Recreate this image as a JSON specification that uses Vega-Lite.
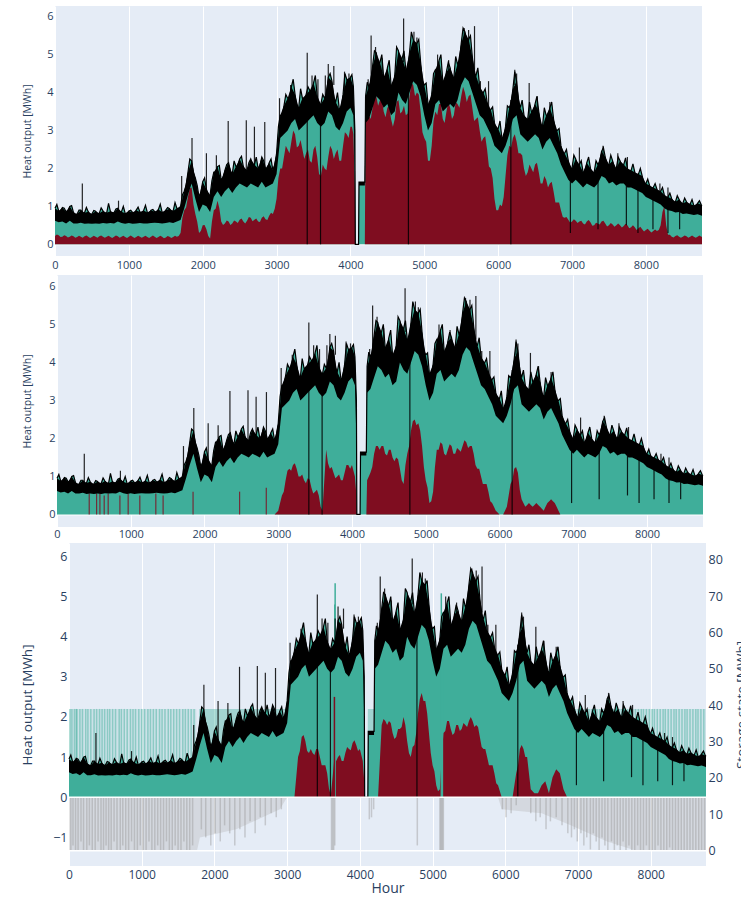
{
"$schema":"https://vega.github.io/schema/vega-lite/v6.json",
"padding":{"left":0,"top":6,"right":0,"bottom":0},
"background":"white",
"spacing":4,
"config":{"mark":{"invalid":"filter"},"view":{"stroke":null},"axis":{"domain":false,"ticks":false,"tickSize":0,"labelFont":"Open Sans","titleFont":"Open Sans","labelColor":"#2a3f5f","titleColor":"#2a3f5f","titleFontWeight":"normal","grid":false,"labelFlush":false,"labelOverlap":false}},
"datasets":{
"zl":[{"h":0},{"h":8760}],
"sto":[{"s":0},{"s":80}],
"ts":[
{"h":0,"hi":0.95,"lo":0.62,"r1":0.22,"r2":0,"r3":0},
{"h":50,"hi":0.88,"lo":0.58,"r1":0.24,"r2":0,"r3":0},
{"h":100,"hi":0.97,"lo":0.6,"r1":0.2,"r2":0,"r3":0},
{"h":150,"hi":0.86,"lo":0.55,"r1":0.22,"r2":0,"r3":0},
{"h":200,"hi":1.0,"lo":0.62,"r1":0.2,"r2":0,"r3":0},
{"h":250,"hi":0.84,"lo":0.55,"r1":0.21,"r2":0,"r3":0},
{"h":300,"hi":0.8,"lo":0.55,"r1":0.19,"r2":0,"r3":0},
{"h":350,"hi":0.9,"lo":0.57,"r1":0.2,"r2":0,"r3":0},
{"h":400,"hi":0.83,"lo":0.54,"r1":0.21,"r2":0,"r3":0},
{"h":450,"hi":0.86,"lo":0.55,"r1":0.2,"r2":0,"r3":0},
{"h":500,"hi":0.8,"lo":0.54,"r1":0.19,"r2":0,"r3":0},
{"h":550,"hi":0.87,"lo":0.55,"r1":0.2,"r2":0,"r3":0},
{"h":600,"hi":0.82,"lo":0.54,"r1":0.21,"r2":0,"r3":0},
{"h":650,"hi":0.88,"lo":0.56,"r1":0.2,"r2":0,"r3":0},
{"h":700,"hi":0.83,"lo":0.55,"r1":0.2,"r2":0,"r3":0},
{"h":750,"hi":0.87,"lo":0.56,"r1":0.19,"r2":0,"r3":0},
{"h":800,"hi":0.84,"lo":0.55,"r1":0.2,"r2":0,"r3":0},
{"h":850,"hi":0.95,"lo":0.6,"r1":0.21,"r2":0,"r3":0},
{"h":900,"hi":0.86,"lo":0.56,"r1":0.2,"r2":0,"r3":0},
{"h":950,"hi":0.82,"lo":0.54,"r1":0.19,"r2":0,"r3":0},
{"h":1000,"hi":0.88,"lo":0.56,"r1":0.2,"r2":0,"r3":0},
{"h":1050,"hi":0.84,"lo":0.54,"r1":0.2,"r2":0,"r3":0},
{"h":1100,"hi":0.9,"lo":0.55,"r1":0.19,"r2":0,"r3":0},
{"h":1150,"hi":0.85,"lo":0.56,"r1":0.2,"r2":0,"r3":0},
{"h":1200,"hi":0.89,"lo":0.55,"r1":0.2,"r2":0,"r3":0},
{"h":1250,"hi":0.84,"lo":0.55,"r1":0.19,"r2":0,"r3":0},
{"h":1300,"hi":0.9,"lo":0.56,"r1":0.2,"r2":0,"r3":0},
{"h":1350,"hi":0.86,"lo":0.57,"r1":0.2,"r2":0,"r3":0},
{"h":1400,"hi":0.92,"lo":0.56,"r1":0.19,"r2":0,"r3":0},
{"h":1450,"hi":0.85,"lo":0.55,"r1":0.2,"r2":0,"r3":0},
{"h":1500,"hi":0.9,"lo":0.56,"r1":0.18,"r2":0,"r3":0},
{"h":1550,"hi":0.94,"lo":0.58,"r1":0.2,"r2":0,"r3":0},
{"h":1600,"hi":0.88,"lo":0.56,"r1":0.19,"r2":0,"r3":0},
{"h":1650,"hi":0.95,"lo":0.6,"r1":0.2,"r2":0,"r3":0},
{"h":1700,"hi":1.0,"lo":0.64,"r1":0.3,"r2":0,"r3":0},
{"h":1750,"hi":1.4,"lo":0.95,"r1":0.9,"r2":0,"r3":0},
{"h":1800,"hi":1.9,"lo":1.3,"r1":1.25,"r2":0,"r3":0},
{"h":1850,"hi":2.2,"lo":1.6,"r1":1.5,"r2":0,"r3":0},
{"h":1900,"hi":1.75,"lo":1.2,"r1":0.8,"r2":0,"r3":0},
{"h":1950,"hi":1.25,"lo":0.85,"r1":0.3,"r2":0,"r3":0},
{"h":2000,"hi":1.65,"lo":1.05,"r1":0.5,"r2":0,"r3":0},
{"h":2050,"hi":1.45,"lo":1.0,"r1":0.4,"r2":0,"r3":0},
{"h":2100,"hi":1.3,"lo":0.85,"r1":0.15,"r2":0,"r3":0},
{"h":2150,"hi":1.9,"lo":1.25,"r1":0.9,"r2":0,"r3":0},
{"h":2200,"hi":2.05,"lo":1.4,"r1":1.15,"r2":0,"r3":0},
{"h":2250,"hi":1.7,"lo":1.25,"r1":0.6,"r2":0,"r3":0},
{"h":2300,"hi":1.95,"lo":1.4,"r1":0.55,"r2":0,"r3":0},
{"h":2350,"hi":2.15,"lo":1.5,"r1":0.6,"r2":0,"r3":0},
{"h":2400,"hi":1.85,"lo":1.35,"r1":0.55,"r2":0,"r3":0},
{"h":2450,"hi":2.05,"lo":1.5,"r1":0.6,"r2":0,"r3":0},
{"h":2500,"hi":2.25,"lo":1.6,"r1":0.65,"r2":0,"r3":0},
{"h":2550,"hi":2.05,"lo":1.55,"r1":0.6,"r2":0,"r3":0},
{"h":2600,"hi":1.95,"lo":1.5,"r1":0.62,"r2":0,"r3":0},
{"h":2650,"hi":2.25,"lo":1.6,"r1":0.7,"r2":0,"r3":0},
{"h":2700,"hi":2.1,"lo":1.55,"r1":0.65,"r2":0,"r3":0},
{"h":2750,"hi":2.0,"lo":1.5,"r1":0.6,"r2":0,"r3":0},
{"h":2800,"hi":2.3,"lo":1.65,"r1":0.7,"r2":0,"r3":0},
{"h":2850,"hi":2.0,"lo":1.5,"r1":0.66,"r2":0,"r3":0},
{"h":2900,"hi":2.15,"lo":1.55,"r1":0.75,"r2":0,"r3":0},
{"h":2950,"hi":1.95,"lo":1.6,"r1":0.8,"r2":0,"r3":0},
{"h":3000,"hi":2.4,"lo":1.85,"r1":1.2,"r2":0.1,"r3":0},
{"h":3050,"hi":3.4,"lo":2.8,"r1":2.0,"r2":0.5,"r3":0},
{"h":3100,"hi":3.65,"lo":2.9,"r1":2.3,"r2":0.9,"r3":0},
{"h":3150,"hi":3.85,"lo":3.0,"r1":2.5,"r2":1.2,"r3":1.0},
{"h":3200,"hi":4.15,"lo":3.2,"r1":2.7,"r2":1.3,"r3":1.5},
{"h":3250,"hi":3.95,"lo":3.3,"r1":2.9,"r2":1.2,"r3":1.4},
{"h":3300,"hi":3.6,"lo":3.0,"r1":2.6,"r2":1.0,"r3":1.1},
{"h":3350,"hi":3.85,"lo":3.1,"r1":2.5,"r2":0.9,"r3":1.1},
{"h":3400,"hi":3.95,"lo":3.2,"r1":2.4,"r2":0.95,"r3":1.2},
{"h":3450,"hi":4.05,"lo":3.3,"r1":2.2,"r2":0.7,"r3":1.0},
{"h":3500,"hi":4.25,"lo":3.4,"r1":2.5,"r2":0.6,"r3":0.8},
{"h":3550,"hi":3.9,"lo":3.2,"r1":2.3,"r2":0.5,"r3":0.6},
{"h":3600,"hi":3.7,"lo":3.1,"r1":1.8,"r2":0.1,"r3":0.05},
{"h":3650,"hi":3.85,"lo":3.2,"r1":2.0,"r2":1.7,"r3":1.0},
{"h":3700,"hi":4.4,"lo":3.5,"r1":2.3,"r2":1.2,"r3":1.0},
{"h":3750,"hi":4.3,"lo":3.4,"r1":2.5,"r2":1.1,"r3":0.9},
{"h":3800,"hi":3.75,"lo":3.1,"r1":2.4,"r2":1.0,"r3":1.1},
{"h":3850,"hi":3.55,"lo":3.0,"r1":2.2,"r2":0.9,"r3":1.2},
{"h":3900,"hi":3.95,"lo":3.2,"r1":2.6,"r2":1.1,"r3":1.35},
{"h":3950,"hi":4.35,"lo":3.5,"r1":2.9,"r2":1.3,"r3":1.3},
{"h":4000,"hi":4.4,"lo":3.6,"r1":3.1,"r2":1.3,"r3":1.2},
{"h":4040,"hi":4.15,"lo":3.4,"r1":2.9,"r2":1.0,"r3":0.9},
{"h":4060,"hi":3.0,"lo":2.0,"r1":1.5,"r2":0.5,"r3":0.4},
{"h":4066,"hi":0,"lo":0,"r1":0,"r2":0,"r3":0},
{"h":4110,"hi":0,"lo":0,"r1":0,"r2":0,"r3":0},
{"h":4116,"hi":1.64,"lo":1.55,"r1":0,"r2":0,"r3":0},
{"h":4195,"hi":1.64,"lo":1.55,"r1":0,"r2":0,"r3":0},
{"h":4205,"hi":3.9,"lo":3.2,"r1":3.2,"r2":0.9,"r3":0},
{"h":4250,"hi":4.15,"lo":3.3,"r1":3.4,"r2":1.1,"r3":0},
{"h":4300,"hi":4.7,"lo":3.6,"r1":3.6,"r2":1.6,"r3":1.8},
{"h":4350,"hi":5.05,"lo":3.9,"r1":3.9,"r2":1.8,"r3":1.9},
{"h":4400,"hi":4.8,"lo":3.8,"r1":3.8,"r2":1.8,"r3":1.9},
{"h":4450,"hi":4.4,"lo":3.6,"r1":3.5,"r2":1.6,"r3":1.6},
{"h":4500,"hi":4.65,"lo":3.7,"r1":3.6,"r2":1.7,"r3":1.5},
{"h":4550,"hi":4.2,"lo":3.4,"r1":3.3,"r2":1.5,"r3":1.7},
{"h":4600,"hi":4.45,"lo":3.5,"r1":3.3,"r2":1.5,"r3":2.0},
{"h":4650,"hi":5.1,"lo":4.0,"r1":3.8,"r2":1.2,"r3":1.4},
{"h":4700,"hi":4.9,"lo":3.8,"r1":3.5,"r2":0.8,"r3":1.0},
{"h":4750,"hi":4.6,"lo":3.7,"r1":3.4,"r2":1.6,"r3":1.3},
{"h":4800,"hi":5.05,"lo":4.0,"r1":3.9,"r2":2.2,"r3":2.1},
{"h":4850,"hi":5.4,"lo":4.3,"r1":4.2,"r2":2.5,"r3":2.6},
{"h":4900,"hi":5.3,"lo":4.2,"r1":4.0,"r2":2.4,"r3":2.4},
{"h":4950,"hi":4.8,"lo":3.9,"r1":3.5,"r2":1.8,"r3":1.6},
{"h":5000,"hi":4.2,"lo":3.4,"r1":2.8,"r2":0.9,"r3":0.8},
{"h":5050,"hi":3.7,"lo":3.0,"r1":2.2,"r2":0.3,"r3":0.3},
{"h":5100,"hi":3.95,"lo":3.2,"r1":2.6,"r2":0.6,"r3":0.2},
{"h":5150,"hi":4.6,"lo":3.7,"r1":3.5,"r2":1.7,"r3":1.6},
{"h":5200,"hi":4.85,"lo":3.8,"r1":3.7,"r2":1.9,"r3":1.9},
{"h":5250,"hi":4.3,"lo":3.5,"r1":3.3,"r2":1.6,"r3":1.7},
{"h":5300,"hi":4.55,"lo":3.6,"r1":3.5,"r2":1.7,"r3":1.6},
{"h":5350,"hi":4.65,"lo":3.7,"r1":3.6,"r2":1.8,"r3":1.8},
{"h":5400,"hi":4.4,"lo":3.6,"r1":3.4,"r2":1.6,"r3":1.7},
{"h":5450,"hi":4.75,"lo":3.8,"r1":3.7,"r2":1.7,"r3":1.8},
{"h":5500,"hi":5.3,"lo":4.2,"r1":3.9,"r2":1.8,"r3":1.9},
{"h":5550,"hi":5.6,"lo":4.4,"r1":4.0,"r2":1.9,"r3":1.9},
{"h":5600,"hi":5.4,"lo":4.3,"r1":3.9,"r2":1.8,"r3":1.8},
{"h":5650,"hi":4.95,"lo":4.0,"r1":3.6,"r2":1.6,"r3":1.5},
{"h":5700,"hi":4.45,"lo":3.7,"r1":3.3,"r2":1.2,"r3":1.2},
{"h":5750,"hi":4.15,"lo":3.4,"r1":3.0,"r2":1.0,"r3":1.0},
{"h":5800,"hi":4.0,"lo":3.3,"r1":2.8,"r2":0.8,"r3":0.8},
{"h":5850,"hi":3.75,"lo":3.1,"r1":2.5,"r2":0.6,"r3":0.6},
{"h":5900,"hi":3.55,"lo":2.9,"r1":2.0,"r2":0.3,"r3":0.3},
{"h":5950,"hi":3.2,"lo":2.6,"r1":1.2,"r2":0.1,"r3":0},
{"h":6000,"hi":3.05,"lo":2.5,"r1":0.9,"r2":0,"r3":0},
{"h":6050,"hi":2.8,"lo":2.4,"r1":1.0,"r2":0,"r3":0},
{"h":6100,"hi":3.1,"lo":2.6,"r1":1.8,"r2":0.2,"r3":0},
{"h":6150,"hi":3.6,"lo":2.9,"r1":2.6,"r2":0.8,"r3":0.6},
{"h":6200,"hi":4.1,"lo":3.3,"r1":2.8,"r2":1.2,"r3":1.2},
{"h":6250,"hi":4.3,"lo":3.4,"r1":2.7,"r2":1.1,"r3":1.2},
{"h":6300,"hi":3.6,"lo":2.9,"r1":2.4,"r2":0.4,"r3":1.0},
{"h":6350,"hi":3.4,"lo":2.8,"r1":2.0,"r2":0.2,"r3":0.2},
{"h":6400,"hi":3.3,"lo":2.7,"r1":1.9,"r2":0.3,"r3":0.1},
{"h":6450,"hi":3.5,"lo":2.8,"r1":2.0,"r2":0.2,"r3":0.1},
{"h":6500,"hi":3.7,"lo":2.9,"r1":2.1,"r2":0.3,"r3":0.3},
{"h":6550,"hi":3.5,"lo":2.8,"r1":1.9,"r2":0.2,"r3":0.4},
{"h":6600,"hi":3.1,"lo":2.5,"r1":1.6,"r2":0.1,"r3":0.1},
{"h":6650,"hi":3.4,"lo":2.7,"r1":1.7,"r2":0.3,"r3":0.5},
{"h":6700,"hi":3.6,"lo":2.8,"r1":1.6,"r2":0.4,"r3":0.7},
{"h":6750,"hi":3.3,"lo":2.6,"r1":1.4,"r2":0.3,"r3":0.6},
{"h":6800,"hi":3.0,"lo":2.4,"r1":1.1,"r2":0.1,"r3":0.2},
{"h":6850,"hi":2.6,"lo":2.1,"r1":0.9,"r2":0,"r3":0},
{"h":6900,"hi":2.4,"lo":1.9,"r1":0.7,"r2":0,"r3":0},
{"h":6950,"hi":2.2,"lo":1.7,"r1":0.65,"r2":0,"r3":0},
{"h":7000,"hi":2.0,"lo":1.6,"r1":0.6,"r2":0,"r3":0},
{"h":7050,"hi":2.25,"lo":1.7,"r1":0.62,"r2":0,"r3":0},
{"h":7100,"hi":2.1,"lo":1.6,"r1":0.6,"r2":0,"r3":0},
{"h":7150,"hi":1.9,"lo":1.5,"r1":0.55,"r2":0,"r3":0},
{"h":7200,"hi":2.15,"lo":1.6,"r1":0.6,"r2":0,"r3":0},
{"h":7250,"hi":2.0,"lo":1.55,"r1":0.58,"r2":0,"r3":0},
{"h":7300,"hi":1.9,"lo":1.5,"r1":0.5,"r2":0,"r3":0},
{"h":7350,"hi":2.1,"lo":1.6,"r1":0.55,"r2":0,"r3":0},
{"h":7400,"hi":2.45,"lo":1.8,"r1":0.6,"r2":0,"r3":0},
{"h":7450,"hi":2.3,"lo":1.75,"r1":0.55,"r2":0,"r3":0},
{"h":7500,"hi":2.1,"lo":1.6,"r1":0.5,"r2":0,"r3":0},
{"h":7550,"hi":2.2,"lo":1.65,"r1":0.52,"r2":0,"r3":0},
{"h":7600,"hi":2.0,"lo":1.55,"r1":0.5,"r2":0,"r3":0},
{"h":7650,"hi":2.2,"lo":1.6,"r1":0.5,"r2":0,"r3":0},
{"h":7700,"hi":2.1,"lo":1.6,"r1":0.48,"r2":0,"r3":0},
{"h":7750,"hi":2.0,"lo":1.5,"r1":0.5,"r2":0,"r3":0},
{"h":7800,"hi":1.95,"lo":1.5,"r1":0.45,"r2":0,"r3":0},
{"h":7850,"hi":1.9,"lo":1.45,"r1":0.45,"r2":0,"r3":0},
{"h":7900,"hi":1.85,"lo":1.4,"r1":0.42,"r2":0,"r3":0},
{"h":7950,"hi":1.8,"lo":1.35,"r1":0.4,"r2":0,"r3":0},
{"h":8000,"hi":1.6,"lo":1.25,"r1":0.38,"r2":0,"r3":0},
{"h":8050,"hi":1.55,"lo":1.2,"r1":0.36,"r2":0,"r3":0},
{"h":8100,"hi":1.5,"lo":1.15,"r1":0.35,"r2":0,"r3":0},
{"h":8150,"hi":1.45,"lo":1.1,"r1":0.35,"r2":0,"r3":0},
{"h":8200,"hi":1.4,"lo":1.05,"r1":0.5,"r2":0,"r3":0},
{"h":8250,"hi":1.3,"lo":0.95,"r1":1.0,"r2":0,"r3":0},
{"h":8300,"hi":1.25,"lo":0.9,"r1":0.25,"r2":0,"r3":0},
{"h":8350,"hi":1.2,"lo":0.88,"r1":0.2,"r2":0,"r3":0},
{"h":8400,"hi":1.12,"lo":0.84,"r1":0.22,"r2":0,"r3":0},
{"h":8450,"hi":1.18,"lo":0.85,"r1":0.2,"r2":0,"r3":0},
{"h":8500,"hi":1.08,"lo":0.8,"r1":0.2,"r2":0,"r3":0},
{"h":8550,"hi":1.12,"lo":0.81,"r1":0.21,"r2":0,"r3":0},
{"h":8600,"hi":1.06,"lo":0.79,"r1":0.2,"r2":0,"r3":0},
{"h":8650,"hi":1.02,"lo":0.77,"r1":0.2,"r2":0,"r3":0},
{"h":8700,"hi":1.08,"lo":0.79,"r1":0.2,"r2":0,"r3":0},
{"h":8750,"hi":1.04,"lo":0.76,"r1":0.2,"r2":0,"r3":0},
{"h":8760,"hi":1.02,"lo":0.75,"r1":0.2,"r2":0,"r3":0},
{"h":25,"hi":1.05,"r1":0.26},{"h":75,"hi":0.87,"r1":0.19},{"h":125,"hi":0.95,"r1":0.24},{"h":175,"hi":0.88,"r1":0.18},
{"h":225,"hi":1.02,"r1":0.235},{"h":275,"hi":0.77,"r1":0.17},{"h":325,"hi":0.9,"r1":0.225},{"h":375,"hi":0.815,"r1":0.175},
{"h":425,"hi":0.97,"r1":0.235},{"h":475,"hi":0.78,"r1":0.165},{"h":525,"hi":0.89,"r1":0.225},{"h":575,"hi":0.795,"r1":0.175},
{"h":625,"hi":0.96,"r1":0.235},{"h":675,"hi":0.805,"r1":0.17},{"h":725,"hi":1.08,"r1":0.225},{"h":775,"hi":0.805,"r1":0.165},
{"h":825,"hi":0.93,"r1":0.235},{"h":875,"hi":0.855,"r1":0.175},{"h":925,"hi":1.0,"r1":0.225},{"h":975,"hi":0.8,"r1":0.165},
{"h":1025,"hi":0.9,"r1":0.23},{"h":1075,"hi":0.82,"r1":0.165},{"h":1125,"hi":0.98,"r1":0.225},{"h":1175,"hi":0.82,"r1":0.17},
{"h":1225,"hi":1.03,"r1":0.225},{"h":1275,"hi":0.82,"r1":0.165},{"h":1325,"hi":0.92,"r1":0.23},{"h":1375,"hi":0.84,"r1":0.165},
{"h":1425,"hi":1.06,"r1":0.225},{"h":1475,"hi":0.825,"r1":0.16},{"h":1525,"hi":0.97,"r1":0.22},{"h":1575,"hi":0.86,"r1":0.165},
{"h":1625,"hi":1.1,"r1":0.225},{"h":1675,"hi":0.925,"r1":0.22},{"h":1725,"hi":1.3,"r1":0.7},{"h":1775,"hi":1.55,"r1":0.97},
{"h":1825,"hi":2.25,"r1":1.47},{"h":1875,"hi":1.89,"r1":1.05},{"h":1925,"hi":1.55,"r1":0.6},{"h":1975,"hi":1.37,"r1":0.35},
{"h":2025,"hi":1.75,"r1":0.51},{"h":2075,"hi":1.29,"r1":0.22},{"h":2125,"hi":1.68,"r1":0.6},{"h":2175,"hi":1.89,"r1":0.94},
{"h":2225,"hi":2.08,"r1":0.95},{"h":2275,"hi":1.74,"r1":0.51},{"h":2325,"hi":2.1,"r1":0.63},{"h":2375,"hi":1.92,"r1":0.51},
{"h":2425,"hi":2.2,"r1":0.63},{"h":2475,"hi":2.07,"r1":0.56},{"h":2525,"hi":2.32,"r1":0.68},{"h":2575,"hi":1.92,"r1":0.55},
{"h":2625,"hi":2.15,"r1":0.72},{"h":2675,"hi":2.09,"r1":0.61},{"h":2725,"hi":2.3,"r1":0.68},{"h":2775,"hi":2.07,"r1":0.59},
{"h":2825,"hi":2.2,"r1":0.74},{"h":2875,"hi":1.99,"r1":0.64},{"h":2925,"hi":2.25,"r1":0.83},{"h":2975,"hi":2.09,"r1":0.94},
{"h":3025,"hi":3.1,"r1":1.75,"r2":0.3,"r3":0},{"h":3075,"hi":3.4,"r1":2.0,"r2":0.6,"r3":0},{"h":3125,"hi":3.95,"r1":2.6,"r2":1.15,"r3":0.5},
{"h":3175,"hi":3.85,"r1":2.4,"r2":1.15,"r3":1.15},{"h":3225,"hi":4.35,"r1":3.0,"r2":1.35,"r3":1.55},{"h":3275,"hi":3.62,"r1":2.55,"r2":1.0,"r3":1.15},
{"h":3325,"hi":4.1,"r1":2.75,"r2":1.05,"r3":1.2},{"h":3375,"hi":3.75,"r1":2.25,"r2":0.82,"r3":1.05},{"h":3425,"hi":4.15,"r1":2.5,"r2":0.92,"r3":1.2},
{"h":3475,"hi":4.0,"r1":2.15,"r2":0.55,"r3":0.8},{"h":3525,"hi":4.45,"r1":2.6,"r2":0.65,"r3":0.8},{"h":3575,"hi":3.65,"r1":1.85,"r2":0.2,"r3":0.22},
{"h":3625,"hi":3.95,"r1":2.1,"r2":0.9,"r3":0.5},{"h":3675,"hi":3.97,"r1":1.95,"r2":1.35,"r3":0.9},{"h":3725,"hi":4.5,"r1":2.6,"r2":1.25,"r3":1.05},
{"h":3775,"hi":3.87,"r1":2.25,"r2":0.95,"r3":0.9},{"h":3825,"hi":4.0,"r1":2.5,"r2":1.05,"r3":1.25},{"h":3875,"hi":3.6,"r1":2.2,"r2":0.9,"r3":1.17},
{"h":3925,"hi":4.5,"r1":2.95,"r2":1.3,"r3":1.42},{"h":3975,"hi":4.22,"r1":2.8,"r2":1.2,"r3":1.15},{"h":4020,"hi":4.47,"r1":3.1,"r2":1.15,"r3":1.05},
{"h":4228,"hi":4.27,"r1":3.5,"r2":1.0,"r3":0},{"h":4275,"hi":4.27,"r1":3.3,"r2":1.25,"r3":0.9},{"h":4325,"hi":5.1,"r1":3.95,"r2":1.8,"r3":1.95},
{"h":4375,"hi":4.72,"r1":3.65,"r2":1.7,"r3":1.8},{"h":4425,"hi":5.0,"r1":3.85,"r2":1.8,"r3":1.85},{"h":4475,"hi":4.32,"r1":3.35,"r2":1.55,"r3":1.45},
{"h":4525,"hi":4.85,"r1":3.65,"r2":1.7,"r3":1.7},{"h":4575,"hi":4.12,"r1":3.1,"r2":1.4,"r3":1.75},{"h":4625,"hi":5.2,"r1":3.75,"r2":1.45,"r3":1.8},
{"h":4675,"hi":4.8,"r1":3.45,"r2":0.9,"r3":1.1},{"h":4725,"hi":5.1,"r1":3.65,"r2":1.3,"r3":1.25},{"h":4775,"hi":4.62,"r1":3.45,"r2":1.8,"r3":1.6},
{"h":4825,"hi":5.6,"r1":4.25,"r2":2.45,"r3":2.45},{"h":4875,"hi":5.15,"r1":3.9,"r2":2.35,"r3":2.4},{"h":4925,"hi":5.4,"r1":3.95,"r2":2.2,"r3":2.1},
{"h":4975,"hi":4.3,"r1":2.95,"r2":1.25,"r3":1.1},{"h":5025,"hi":4.25,"r1":2.7,"r2":0.7,"r3":0.65},{"h":5075,"hi":3.62,"r1":2.2,"r2":0.35,"r3":0.15},
{"h":5125,"hi":4.5,"r1":3.25,"r2":1.25,"r3":1.0},{"h":5175,"hi":4.52,"r1":3.4,"r2":1.7,"r3":1.65},{"h":5225,"hi":5.0,"r1":3.7,"r2":1.85,"r3":1.9},
{"h":5275,"hi":4.22,"r1":3.2,"r2":1.55,"r3":1.55},{"h":5325,"hi":4.8,"r1":3.75,"r2":1.85,"r3":1.8},{"h":5375,"hi":4.32,"r1":3.3,"r2":1.6,"r3":1.65},
{"h":5425,"hi":4.95,"r1":3.75,"r2":1.75,"r3":1.85},{"h":5475,"hi":4.82,"r1":3.6,"r2":1.65,"r3":1.75},{"h":5525,"hi":5.7,"r1":4.15,"r2":1.95,"r3":2.0},
{"h":5575,"hi":5.3,"r1":3.75,"r2":1.75,"r3":1.75},{"h":5625,"hi":5.5,"r1":3.95,"r2":1.8,"r3":1.75},{"h":5675,"hi":4.5,"r1":3.25,"r2":1.3,"r3":1.25},
{"h":5725,"hi":4.65,"r1":3.35,"r2":1.2,"r3":1.2},{"h":5775,"hi":3.87,"r1":2.7,"r2":0.8,"r3":0.8},{"h":5825,"hi":4.1,"r1":2.85,"r2":0.8,"r3":0.8},
{"h":5875,"hi":3.45,"r1":2.05,"r2":0.35,"r3":0.35},{"h":5925,"hi":3.62,"r1":1.75,"r2":0.2,"r3":0.15},{"h":5975,"hi":2.97,"r1":0.9,"r2":0.05,"r3":0},
{"h":6025,"hi":3.25,"r1":1.05,"r2":0,"r3":0},{"h":6075,"hi":2.8,"r1":1.25,"r2":0.1,"r3":0},{"h":6125,"hi":3.65,"r1":2.35,"r2":0.5,"r3":0.3},
{"h":6175,"hi":3.7,"r1":2.55,"r2":0.9,"r3":0.8},{"h":6225,"hi":4.55,"r1":2.9,"r2":1.25,"r3":1.3},{"h":6275,"hi":3.8,"r1":2.4,"r2":0.65,"r3":1.0},
{"h":6325,"hi":3.8,"r1":2.35,"r2":0.3,"r3":0.6},{"h":6375,"hi":3.2,"r1":1.8,"r2":0.25,"r3":0.15},{"h":6425,"hi":3.75,"r1":2.1,"r2":0.25,"r3":0.1},
{"h":6475,"hi":3.45,"r1":1.9,"r2":0.25,"r3":0.2},{"h":6525,"hi":3.9,"r1":2.15,"r2":0.25,"r3":0.35},{"h":6575,"hi":3.15,"r1":1.6,"r2":0.15,"r3":0.25},
{"h":6625,"hi":3.6,"r1":1.8,"r2":0.2,"r3":0.3},{"h":6675,"hi":3.35,"r1":1.5,"r2":0.35,"r3":0.6},{"h":6725,"hi":3.75,"r1":1.65,"r2":0.35,"r3":0.65},
{"h":6775,"hi":3.0,"r1":1.1,"r2":0.2,"r3":0.4},{"h":6825,"hi":3.05,"r1":1.1,"r2":0,"r3":0.1},{"h":6875,"hi":2.4,"r1":0.72},
{"h":6925,"hi":2.5,"r1":0.72},{"h":6975,"hi":2.0,"r1":0.57},{"h":7025,"hi":2.35,"r1":0.66},{"h":7075,"hi":2.07,"r1":0.56},
{"h":7125,"hi":2.2,"r1":0.62},{"h":7175,"hi":1.92,"r1":0.52},{"h":7225,"hi":2.3,"r1":0.64},{"h":7275,"hi":1.85,"r1":0.49},
{"h":7325,"hi":2.2,"r1":0.57},{"h":7375,"hi":2.17,"r1":0.52},{"h":7425,"hi":2.55,"r1":0.62},{"h":7475,"hi":2.1,"r1":0.47},
{"h":7525,"hi":2.35,"r1":0.56},{"h":7575,"hi":2.0,"r1":0.46},{"h":7625,"hi":2.3,"r1":0.55},{"h":7675,"hi":2.05,"r1":0.44},
{"h":7725,"hi":2.28,"r1":0.54},{"h":7775,"hi":1.87,"r1":0.42},{"h":7825,"hi":2.12,"r1":0.5},{"h":7875,"hi":1.77,"r1":0.38},
{"h":7925,"hi":2.0,"r1":0.46},{"h":7975,"hi":1.6,"r1":0.34},{"h":8025,"hi":1.72,"r1":0.41},{"h":8075,"hi":1.44,"r1":0.31},
{"h":8125,"hi":1.6,"r1":0.39},{"h":8175,"hi":1.34,"r1":0.38},{"h":8225,"hi":1.5,"r1":0.85},{"h":8275,"hi":1.19,"r1":0.5},
{"h":8325,"hi":1.35,"r1":0.25},{"h":8375,"hi":1.1,"r1":0.18},{"h":8425,"hi":1.28,"r1":0.24},{"h":8475,"hi":1.07,"r1":0.17},
{"h":8525,"hi":1.22,"r1":0.23},{"h":8575,"hi":1.03,"r1":0.17},{"h":8625,"hi":1.18,"r1":0.23},{"h":8675,"hi":0.99,"r1":0.17},
{"h":8725,"hi":1.15,"r1":0.23}
],
"up":[
{"h":370,"a":0.85,"b":1.6},{"h":860,"a":0.9,"b":1.15},{"h":1715,"a":1.0,"b":1.8},{"h":1855,"a":2.0,"b":2.8},
{"h":2050,"a":1.4,"b":2.4},{"h":2185,"a":1.8,"b":2.35},{"h":2345,"a":2.0,"b":3.25},{"h":2590,"a":1.9,"b":3.27},
{"h":2700,"a":2.0,"b":3.1},{"h":2840,"a":2.0,"b":3.22},{"h":3040,"a":3.0,"b":3.85},{"h":3415,"a":0,"b":5.05},
{"h":3595,"a":0,"b":3.7},{"h":3660,"a":3.8,"b":4.45},{"h":3775,"a":4.2,"b":4.7},{"h":3920,"a":3.8,"b":4.55},
{"h":4280,"a":4.1,"b":5.5},{"h":4720,"a":4.8,"b":5.95},{"h":4785,"a":0,"b":4.6},{"h":5680,"a":4.6,"b":5.75},
{"h":5870,"a":3.6,"b":4.3},{"h":6172,"a":0,"b":3.8},{"h":6225,"a":4.2,"b":4.6},{"h":6420,"a":3.3,"b":4.25},
{"h":6530,"a":3.5,"b":3.9},{"h":7100,"a":2.0,"b":2.55},{"h":7750,"a":1.9,"b":2.3},
{"h":6978,"a":0.3,"b":2.0},{"h":7352,"a":0.4,"b":2.0},{"h":7736,"a":0.5,"b":1.9},{"h":7893,"a":0.3,"b":1.8},
{"h":8096,"a":0.4,"b":1.4},{"h":8299,"a":0.3,"b":1.5},{"h":8457,"a":0.4,"b":1.1},
{"h":3190,"a":3.8,"b":4.2},{"h":3480,"a":3.9,"b":4.45},{"h":3560,"a":3.8,"b":4.35},{"h":3700,"a":4.2,"b":4.75},{"h":3980,"a":4.2,"b":4.5},
{"h":4240,"a":3.9,"b":4.35},{"h":4340,"a":4.8,"b":5.2},{"h":4430,"a":4.5,"b":4.9},{"h":4860,"a":5.2,"b":5.6},{"h":4900,"a":5.1,"b":5.45},
{"h":5180,"a":4.6,"b":5.0},{"h":5330,"a":4.5,"b":4.85},{"h":5540,"a":5.4,"b":5.7},{"h":5600,"a":5.2,"b":5.65},{"h":5760,"a":3.9,"b":4.3},
{"h":6250,"a":4.1,"b":4.5},{"h":6700,"a":3.4,"b":3.75},{"h":7420,"a":2.3,"b":2.6},{"h":7620,"a":2.0,"b":2.4},{"h":8190,"a":1.3,"b":1.6}
],
"rr2":[
{"h":437,"v":0.55},{"h":537,"v":0.55},{"h":582,"v":0.55},{"h":640,"v":0.5},{"h":694,"v":0.55},{"h":853,"v":0.5},
{"h":965,"v":0.55},{"h":1123,"v":0.5},{"h":1340,"v":0.55},{"h":1439,"v":0.5},{"h":1845,"v":0.6},{"h":2476,"v":0.6},{"h":2838,"v":0.7}
],
"chgR":[
{"h":15,"c":2.2},{"h":40,"c":2.2},{"h":75,"c":2.2},{"h":100,"c":2.2},{"h":110,"c":2.2},{"h":150,"c":2.2},{"h":185,"c":2.2},{"h":230,"c":2.2},
{"h":260,"c":2.2},{"h":300,"c":2.2},{"h":345,"c":2.2},{"h":380,"c":2.2},{"h":420,"c":2.2},{"h":455,"c":2.2},{"h":490,"c":2.2},{"h":530,"c":2.2},
{"h":560,"c":2.2},{"h":600,"c":2.2},{"h":640,"c":2.2},{"h":690,"c":2.2},{"h":720,"c":2.2},{"h":760,"c":2.2},{"h":800,"c":2.2},{"h":845,"c":2.2},
{"h":880,"c":2.2},{"h":915,"c":2.2},{"h":960,"c":2.2},{"h":1000,"c":2.2},{"h":1040,"c":2.2},{"h":1085,"c":2.2},{"h":1120,"c":2.2},{"h":1160,"c":2.2},
{"h":1200,"c":2.2},{"h":1245,"c":2.2},{"h":1280,"c":2.2},{"h":1320,"c":2.2},{"h":1365,"c":2.2},{"h":1400,"c":2.2},{"h":1440,"c":2.2},{"h":1480,"c":2.2},
{"h":1520,"c":2.2},{"h":1565,"c":2.2},{"h":1600,"c":2.2},{"h":1640,"c":2.2},{"h":1680,"c":2.2},{"h":1720,"c":2.2},
{"h":6920,"c":2.2},{"h":6960,"c":2.2},{"h":7000,"c":2.2},{"h":7030,"c":2.2},{"h":7070,"c":2.2},{"h":7110,"c":2.2},{"h":7150,"c":2.2},{"h":7190,"c":2.2},
{"h":7230,"c":2.2},{"h":7260,"c":2.2},{"h":7300,"c":2.2},{"h":7340,"c":2.2},{"h":7380,"c":2.2},{"h":7420,"c":2.2},{"h":7450,"c":2.2},{"h":7490,"c":2.2},
{"h":7530,"c":2.2},{"h":7570,"c":2.2},{"h":7600,"c":2.2},{"h":7640,"c":2.2},{"h":7680,"c":2.2},{"h":7720,"c":2.2},{"h":7750,"c":2.2},{"h":7790,"c":2.2},
{"h":7830,"c":2.2},{"h":7870,"c":2.2},{"h":7900,"c":2.2},{"h":7940,"c":2.2},{"h":7980,"c":2.2},{"h":8020,"c":2.2},{"h":8050,"c":2.2},{"h":8090,"c":2.2},
{"h":8130,"c":2.2},{"h":8170,"c":2.2},{"h":8200,"c":2.2},{"h":8240,"c":2.2},{"h":8280,"c":2.2},{"h":8320,"c":2.2},{"h":8350,"c":2.2},{"h":8390,"c":2.2},
{"h":8430,"c":2.2},{"h":8470,"c":2.2},{"h":8500,"c":2.2},{"h":8540,"c":2.2},{"h":8580,"c":2.2},{"h":8620,"c":2.2},{"h":8650,"c":2.2},{"h":8690,"c":2.2},{"h":8730,"c":2.2}
],
"chgA":[{"h":1780,"c":0},{"h":1790,"c":2.2},{"h":3030,"c":2.2},{"h":3040,"c":0},{"h":4100,"c":0},{"h":4110,"c":2.2},{"h":4210,"c":2.2},{"h":4220,"c":0}],
"chgF":[{"h":0,"c":2.2},{"h":1750,"c":2.2},{"h":1760,"c":0},{"h":6880,"c":0},{"h":6890,"c":2.2},{"h":8760,"c":2.2}],
"disA":[{"h":0,"d":-1.33},{"h":1760,"d":-1.33},{"h":1800,"d":-1.0},{"h":2300,"d":-0.8},{"h":2900,"d":-0.3},{"h":3000,"d":0},{"h":5900,"d":0},{"h":5950,"d":-0.3},{"h":6500,"d":-0.4},{"h":6900,"d":-0.7},{"h":7400,"d":-1.1},{"h":7800,"d":-1.33},{"h":8760,"d":-1.33}],
"disR":[
{"h":25,"d":-1.33},{"h":55,"d":-1.2},{"h":90,"d":-1.33},{"h":125,"d":-1.33},{"h":165,"d":-1.1},{"h":200,"d":-1.33},{"h":245,"d":-1.33},{"h":280,"d":-1.2},
{"h":320,"d":-1.33},{"h":360,"d":-1.33},{"h":400,"d":-1.1},{"h":440,"d":-1.33},{"h":475,"d":-1.33},{"h":510,"d":-1.2},{"h":545,"d":-1.33},{"h":580,"d":-1.33},
{"h":620,"d":-1.1},{"h":660,"d":-1.33},{"h":705,"d":-1.33},{"h":740,"d":-1.2},{"h":780,"d":-1.33},{"h":820,"d":-1.33},{"h":860,"d":-1.1},{"h":900,"d":-1.33},
{"h":940,"d":-1.33},{"h":980,"d":-1.2},{"h":1020,"d":-1.33},{"h":1060,"d":-1.33},{"h":1100,"d":-1.1},{"h":1140,"d":-1.33},{"h":1180,"d":-1.33},{"h":1220,"d":-1.2},
{"h":1260,"d":-1.33},{"h":1300,"d":-1.33},{"h":1340,"d":-1.1},{"h":1380,"d":-1.33},{"h":1420,"d":-1.33},{"h":1460,"d":-1.2},{"h":1500,"d":-1.33},{"h":1540,"d":-1.33},
{"h":1580,"d":-1.1},{"h":1620,"d":-1.33},{"h":1660,"d":-1.33},{"h":1700,"d":-1.2},
{"h":1820,"d":-0.8},{"h":1880,"d":-1.0},{"h":1950,"d":-1.2},{"h":2010,"d":-0.9},{"h":2080,"d":-1.1},{"h":2140,"d":-0.7},{"h":2210,"d":-0.9},{"h":2280,"d":-1.2},
{"h":2350,"d":-0.8},{"h":2420,"d":-1.0},{"h":2490,"d":-0.6},{"h":2560,"d":-0.9},{"h":2630,"d":-0.5},{"h":2700,"d":-0.7},{"h":2780,"d":-0.4},{"h":2850,"d":-0.5},{"h":2920,"d":-0.3},
{"h":3610,"d":-1.33},{"h":3625,"d":-1.33},{"h":3640,"d":-1.33},{"h":3655,"d":-1.2},
{"h":4130,"d":-0.55},{"h":4160,"d":-0.5},{"h":4190,"d":-0.3},{"h":4790,"d":-1.2},
{"h":5100,"d":-1.33},{"h":5112,"d":-1.33},{"h":5124,"d":-1.33},{"h":5136,"d":-1.33},{"h":5148,"d":-1.33},
{"h":5960,"d":-0.3},{"h":6010,"d":-0.5},{"h":6080,"d":-0.4},{"h":6150,"d":-0.2},{"h":6350,"d":-0.4},{"h":6420,"d":-0.6},{"h":6480,"d":-0.5},{"h":6560,"d":-0.8},
{"h":6620,"d":-0.6},{"h":6700,"d":-0.5},{"h":6780,"d":-0.7},{"h":6860,"d":-0.9},
{"h":6910,"d":-1.0},{"h":6950,"d":-0.8},{"h":6990,"d":-1.1},{"h":7040,"d":-0.9},{"h":7080,"d":-1.2},{"h":7120,"d":-1.0},{"h":7170,"d":-1.3},{"h":7210,"d":-0.9},
{"h":7250,"d":-1.1},{"h":7290,"d":-1.33},{"h":7330,"d":-1.0},{"h":7370,"d":-1.2},{"h":7410,"d":-1.33},{"h":7460,"d":-1.1},{"h":7500,"d":-1.33},{"h":7540,"d":-1.2},
{"h":7580,"d":-1.33},{"h":7620,"d":-1.1},{"h":7660,"d":-1.33},{"h":7700,"d":-1.2},{"h":7740,"d":-1.33},{"h":7780,"d":-1.33},{"h":7820,"d":-1.2},{"h":7860,"d":-1.33},
{"h":7900,"d":-1.33},{"h":7940,"d":-1.2},{"h":7980,"d":-1.33},{"h":8020,"d":-1.33},{"h":8060,"d":-1.33},{"h":8100,"d":-1.2},{"h":8140,"d":-1.33},{"h":8180,"d":-1.33},
{"h":8220,"d":-1.33},{"h":8260,"d":-1.25},{"h":8300,"d":-1.33},{"h":8340,"d":-1.33},{"h":8380,"d":-1.33},{"h":8420,"d":-1.33},{"h":8460,"d":-1.33},{"h":8500,"d":-1.33},
{"h":8540,"d":-1.33},{"h":8580,"d":-1.33},{"h":8620,"d":-1.33},{"h":8660,"d":-1.33},{"h":8700,"d":-1.33},{"h":8740,"d":-1.33}
],
"t3t":[{"h":3655,"v":4.8},{"h":3660,"v":5.33},{"h":5120,"v":5.08},{"h":5135,"v":4.6}],
"t3r":[{"h":3650,"v":2.5}]
},
"vconcat":[
{"hconcat":[
 {"width":22,"height":1,"data":{"values":[]},"mark":"point"},
 {"width":647,"height":250,"view":{"fill":"#E5ECF6","stroke":null},
  "encoding":{"x":{"field":"h","type":"quantitative","scale":{"domain":[0,8760],"nice":false,"zero":false},"axis":{"title":null,"values":[0,1000,2000,3000,4000,5000,6000,7000,8000],"format":"d","labelFontSize":11,"labelPadding":3.5,"grid":true,"gridColor":"#ffffff","gridWidth":1}}},
  "layer":[
   {"data":{"name":"ts"},"mark":{"type":"area","color":"#3fae9a"},"encoding":{"y":{"field":"hi","type":"quantitative","scale":{"domain":[-0.308,6.28],"nice":false,"zero":false},"axis":{"title":"Heat output [MWh]","values":[0,1,2,3,4,5,6],"labelFontSize":11,"labelPadding":2,"titleFontSize":10.5,"titlePadding":14}},"y2":{"datum":0}}},
   {"data":{"name":"zl"},"mark":{"type":"line","color":"#ffffff","strokeWidth":2},"encoding":{"y":{"datum":0,"type":"quantitative"}}},
   {"data":{"name":"ts"},"mark":{"type":"area","color":"#3fae9a"},"encoding":{"y":{"field":"hi","type":"quantitative"},"y2":{"datum":0}}},
   {"data":{"name":"ts"},"mark":{"type":"area","color":"#7f0d20"},"encoding":{"y":{"field":"r1","type":"quantitative"},"y2":{"datum":0}}},
   {"data":{"name":"ts"},"mark":{"type":"area","color":"#000000"},"encoding":{"y":{"field":"lo","type":"quantitative"},"y2":{"field":"hi"}}},
   {"data":{"name":"ts"},"mark":{"type":"line","color":"#000000","strokeWidth":1.2},"encoding":{"y":{"field":"hi","type":"quantitative"}}},
   {"data":{"name":"up"},"mark":{"type":"rule","color":"#000000","strokeWidth":1.2,"opacity":0.85},"encoding":{"y":{"field":"a","type":"quantitative"},"y2":{"field":"b"}}}
  ]}
],"spacing":0},
{"hconcat":[
 {"width":22,"height":1,"data":{"values":[]},"mark":"point"},
 {"width":646,"height":252,"view":{"fill":"#E5ECF6","stroke":null},
  "encoding":{"x":{"field":"h","type":"quantitative","scale":{"domain":[0,8760],"nice":false,"zero":false},"axis":{"title":null,"values":[0,1000,2000,3000,4000,5000,6000,7000,8000],"format":"d","labelFontSize":11,"labelPadding":1,"grid":true,"gridColor":"#ffffff","gridWidth":1}}},
  "layer":[
   {"data":{"name":"ts"},"mark":{"type":"area","color":"#3fae9a"},"encoding":{"y":{"field":"hi","type":"quantitative","scale":{"domain":[-0.33,6.3],"nice":false,"zero":false},"axis":{"title":"Heat output [MWh]","values":[0,1,2,3,4,5,6],"labelFontSize":11,"labelPadding":2,"titleFontSize":10.5,"titlePadding":16.5}},"y2":{"datum":0}}},
   {"data":{"name":"zl"},"mark":{"type":"line","color":"#ffffff","strokeWidth":2},"encoding":{"y":{"datum":0,"type":"quantitative"}}},
   {"data":{"name":"ts"},"mark":{"type":"area","color":"#3fae9a"},"encoding":{"y":{"field":"hi","type":"quantitative"},"y2":{"datum":0}}},
   {"data":{"name":"ts"},"mark":{"type":"area","color":"#7f0d20"},"encoding":{"y":{"field":"r2","type":"quantitative"},"y2":{"datum":0}}},
   {"data":{"name":"rr2"},"mark":{"type":"rule","color":"#7f0d20","strokeWidth":1.2,"opacity":0.8},"encoding":{"y":{"field":"v","type":"quantitative"},"y2":{"datum":0}}},
   {"data":{"name":"ts"},"mark":{"type":"area","color":"#000000"},"encoding":{"y":{"field":"lo","type":"quantitative"},"y2":{"field":"hi"}}},
   {"data":{"name":"ts"},"mark":{"type":"line","color":"#000000","strokeWidth":1.2},"encoding":{"y":{"field":"hi","type":"quantitative"}}},
   {"data":{"name":"up"},"mark":{"type":"rule","color":"#000000","strokeWidth":1.2,"opacity":0.85},"encoding":{"y":{"field":"a","type":"quantitative"},"y2":{"field":"b"}}}
  ]}
],"spacing":0},
{"hconcat":[
 {"width":20,"height":1,"data":{"values":[]},"mark":"point"},
 {"width":637,"height":323,"view":{"fill":"#E5ECF6","stroke":null},
  "resolve":{"scale":{"y":"independent"},"axis":{"y":"independent"}},
  "layer":[
   {"encoding":{"x":{"field":"h","type":"quantitative","scale":{"domain":[0,8760],"nice":false,"zero":false},"axis":{"title":"Hour","titleFontSize":14,"titlePadding":1,"values":[0,1000,2000,3000,4000,5000,6000,7000,8000],"format":"d","labelFontSize":12,"labelPadding":3,"grid":true,"gridColor":"#ffffff","gridWidth":1}}},
    "layer":[
     {"data":{"name":"disA"},"mark":{"type":"area","color":"#b4b4b4","opacity":0.35},"encoding":{"y":{"field":"d","type":"quantitative","scale":{"domain":[-1.713,6.334],"nice":false,"zero":false},"axis":{"title":"Heat output [MWh]","values":[-1,0,1,2,3,4,5,6],"labelFontSize":12.5,"labelPadding":2,"titleFontSize":13.5,"titlePadding":18}},"y2":{"datum":0}}},
     {"data":{"name":"disR"},"mark":{"type":"rule","color":"#9c9c9c","strokeWidth":1.5,"opacity":0.45},"encoding":{"y":{"field":"d","type":"quantitative"},"y2":{"datum":0}}},
     {"data":{"name":"chgF"},"mark":{"type":"area","color":"#3fae9a","opacity":0.15},"encoding":{"y":{"field":"c","type":"quantitative"},"y2":{"datum":0}}},
     {"data":{"name":"chgA"},"mark":{"type":"area","color":"#3fae9a","opacity":0.4},"encoding":{"y":{"field":"c","type":"quantitative"},"y2":{"datum":0}}},
     {"data":{"name":"chgR"},"mark":{"type":"rule","color":"#3fae9a","strokeWidth":1.5,"opacity":0.45},"encoding":{"y":{"field":"c","type":"quantitative"},"y2":{"datum":0}}},
     {"data":{"name":"ts"},"mark":{"type":"area","color":"#3fae9a"},"encoding":{"y":{"field":"hi","type":"quantitative"},"y2":{"datum":0}}},
     {"data":{"name":"ts"},"mark":{"type":"area","color":"#7f0d20"},"encoding":{"y":{"field":"r3","type":"quantitative"},"y2":{"datum":0}}},
     {"data":{"name":"t3t"},"mark":{"type":"rule","color":"#3fae9a","strokeWidth":1.5},"encoding":{"y":{"field":"v","type":"quantitative"},"y2":{"datum":0}}},
     {"data":{"name":"t3r"},"mark":{"type":"rule","color":"#7f0d20","strokeWidth":1.5},"encoding":{"y":{"field":"v","type":"quantitative"},"y2":{"datum":0}}},
     {"data":{"name":"ts"},"mark":{"type":"area","color":"#000000"},"encoding":{"y":{"field":"lo","type":"quantitative"},"y2":{"field":"hi"}}},
     {"data":{"name":"ts"},"mark":{"type":"line","color":"#000000","strokeWidth":1.2},"encoding":{"y":{"field":"hi","type":"quantitative"}}},
     {"data":{"name":"up"},"mark":{"type":"rule","color":"#000000","strokeWidth":1.2,"opacity":0.85},"encoding":{"y":{"field":"a","type":"quantitative"},"y2":{"field":"b"}}},
     {"data":{"name":"zl"},"mark":{"type":"line","color":"#ffffff","strokeWidth":1.5},"encoding":{"y":{"datum":0,"type":"quantitative"}}},
     {"data":{"name":"zl"},"mark":{"type":"line","color":"#ffffff","strokeWidth":1.5},"encoding":{"y":{"datum":-1.333,"type":"quantitative"}}}
    ]},
   {"data":{"name":"sto"},"mark":{"type":"point","opacity":0},"encoding":{"y":{"field":"s","type":"quantitative","scale":{"domain":[-4.2,84.6],"nice":false,"zero":false},"axis":{"orient":"right","title":"Storage state [MWh]","values":[0,10,20,30,40,50,60,70,80],"labelFontSize":12.5,"labelPadding":2,"titleFontSize":13.5,"titleAngle":270,"titleBaseline":"top","titlePadding":12}}}}
  ]}
],"spacing":0}
]
}
